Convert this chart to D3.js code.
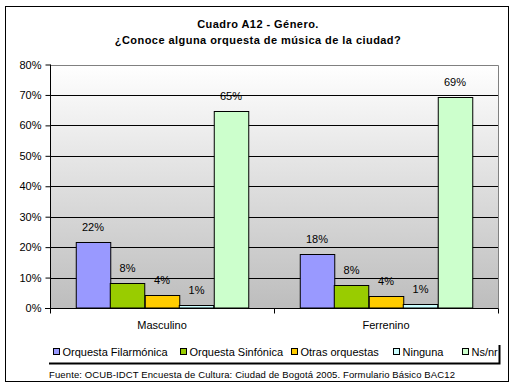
<!DOCTYPE html>
<html><head><meta charset="utf-8">
<script src="https://cdn.jsdelivr.net/npm/d3@7"></script>
<style>body{margin:0;background:#fff}svg{display:block}text{font-family:"Liberation Sans",Arial,sans-serif}</style>
</head><body><svg id="c" width="515" height="391"></svg>
<script>
const categories = ["Masculino", "Ferrenino"];
const seriesNames = ["Orquesta Filarmónica", "Orquesta Sinfónica", "Otras orquestas", "Ninguna", "Ns/nr"];
const seriesColors = ["#9999FF", "#99CC00", "#FFCC00", "#CCFFFF", "#CCFFCC"];
const valuesMasculino = [21.6, 8.1, 4.4, 0.9, 64.8];
const valuesFerrenino = [17.8, 7.5, 3.8, 1.4, 69.2];
const yTicks = [0, 10, 20, 30, 40, 50, 60, 70, 80];
const titleLines = ["Cuadro A12 - Género.", "¿Conoce alguna orquesta de música de la ciudad?"];
const footer = "Fuente: OCUB-IDCT Encuesta de Cultura: Ciudad de Bogotá 2005. Formulario Básico BAC12";

const values = [valuesMasculino, valuesFerrenino];
const svg = d3.select("#c");
const L = 50, R = 498, T = 64.5, B = 308;

svg.append("rect").attr("x", 5.5).attr("y", 6.5).attr("width", 503).attr("height", 375)
  .attr("fill", "#fff").attr("stroke", "#000").attr("stroke-width", 1);

svg.append("g").selectAll("text").data(titleLines).join("text")
  .attr("x", 258).attr("y", (d, i) => 28 + i * 16).attr("text-anchor", "middle")
  .attr("font-size", 11).attr("font-weight", "bold").attr("letter-spacing", 0.45).text(d => d);

const defs = svg.append("defs");
const grad = defs.append("linearGradient").attr("id", "bg").attr("x1", 0).attr("y1", 0).attr("x2", 0).attr("y2", 1);
grad.append("stop").attr("offset", "0%").attr("stop-color", "#ffffff");
grad.append("stop").attr("offset", "100%").attr("stop-color", "#bdbdbd");

const y = d3.scaleLinear().domain([0, 80]).range([B, T]);
const x0 = d3.scaleBand().domain(categories).range([L, R]).paddingInner(0.23).paddingOuter(0.115);
const x1 = d3.scaleBand().domain(d3.range(seriesNames.length)).range([0, x0.bandwidth()]);

svg.append("rect").attr("x", L).attr("y", T).attr("width", R - L).attr("height", B - T)
  .attr("fill", "url(#bg)");
svg.append("g").selectAll("line").data(yTicks.filter(t => t > 0 && t < 80)).join("line")
  .attr("x1", L).attr("x2", R).attr("y1", d => Math.round(y(d)) + 0.5).attr("y2", d => Math.round(y(d)) + 0.5)
  .attr("stroke", "#000");
svg.append("path").attr("d", `M${L},${Math.round(T)+0.5}H${R+0.5}V${B}`).attr("fill", "none").attr("stroke", "#808080");

const groups = svg.append("g").selectAll("g").data(categories).join("g")
  .attr("transform", d => `translate(${x0(d)},0)`);
groups.each(function (c, ci) {
  const g = d3.select(this);
  g.selectAll("rect").data(values[ci]).join("rect")
    .attr("x", (d, i) => Math.round(x1(i)) + 0.5)
    .attr("y", d => Math.round(y(d)) + 0.5)
    .attr("width", x1.bandwidth())
    .attr("height", d => B - Math.round(y(d)) - 0.5)
    .attr("fill", (d, i) => seriesColors[i]).attr("stroke", "#000");
  g.selectAll("text").data(values[ci]).join("text")
    .attr("x", (d, i) => x1(i) + x1.bandwidth() / 2)
    .attr("y", d => y(d) - 11).attr("text-anchor", "middle").attr("font-size", 11)
    .text(d => Math.round(d) + "%");
});

const yAxis = d3.axisLeft(y).tickValues(yTicks).tickSize(5).tickFormat(d => d + "%");
const ya = svg.append("g").attr("transform", `translate(${L + 0.5},0)`).call(yAxis);
ya.select(".domain").attr("stroke", "#000").attr("d", `M0,${T}V${B}`);
ya.selectAll(".tick line").attr("stroke", "#000");
ya.selectAll(".tick text").attr("font-family", "Liberation Sans, Arial").attr("font-size", 11).attr("fill", "#000").attr("x", -9);

const xa = svg.append("g").attr("transform", `translate(0,${B + 0.5})`);
xa.append("line").attr("x1", L - 5).attr("x2", R + 0.5).attr("stroke", "#000");
xa.selectAll(".tk").data([L, (L + R) / 2, R]).join("line").attr("class", "tk")
  .attr("x1", d => Math.round(d) + 0.5).attr("x2", d => Math.round(d) + 0.5).attr("y1", 0).attr("y2", 5).attr("stroke", "#000");
xa.selectAll("text").data(categories).join("text")
  .attr("x", d => x0(d) + x0.bandwidth() / 2).attr("y", 20).attr("text-anchor", "middle")
  .attr("font-size", 11).text(d => d);

const legendX = [53, 180, 291, 393, 462];
const lg = svg.append("g");
lg.append("path").attr("d", "M49,363.5H499.5V345").attr("fill", "none").attr("stroke", "#000").attr("stroke-width", 2);
const li = lg.selectAll("g").data(seriesNames).join("g").attr("transform", (d, i) => `translate(${legendX[i]},0)`);
li.append("rect").attr("x", 0.5).attr("y", 348.5).attr("width", 6).attr("height", 6)
  .attr("fill", (d, i) => seriesColors[i]).attr("stroke", "#000");
li.append("text").attr("x", 9.5).attr("y", 356).attr("font-size", 11).text(d => d);

svg.append("text").attr("x", 49).attr("y", 378).attr("font-size", 9.5).attr("letter-spacing", 0.12).text(footer);
</script></body></html>
